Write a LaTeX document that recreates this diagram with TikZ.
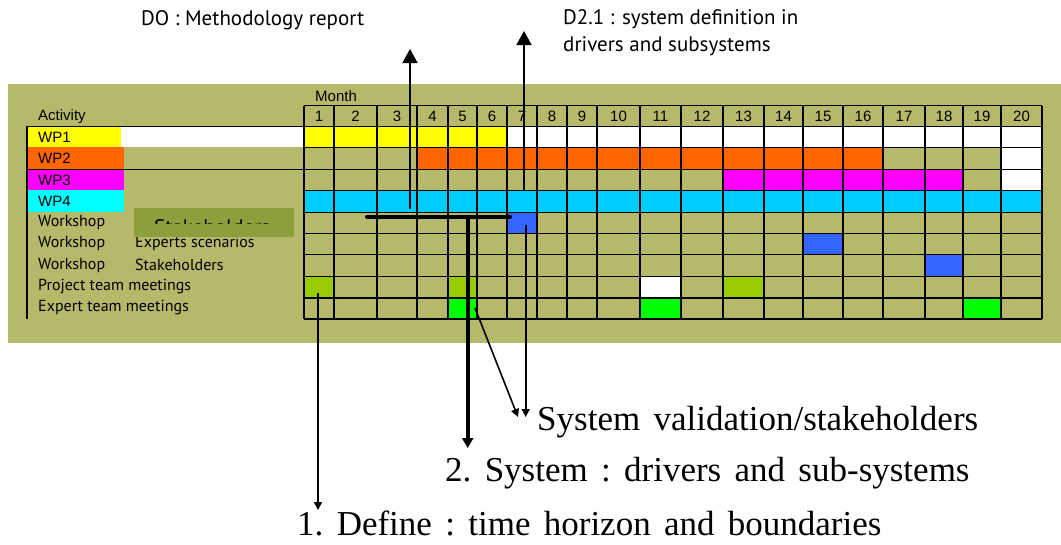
\documentclass[tikz,border=0pt]{standalone}
\usepackage{fontspec}
\setmainfont{Liberation Serif}
\setsansfont{Liberation Sans}
\newfontfamily\humfont{PT Sans}
\usetikzlibrary{arrows.meta,calc}
\definecolor{chartolive}{HTML}{B6B96A}
\definecolor{boxolive}{HTML}{8BA03C}
\definecolor{wpyellow}{HTML}{FFFF00}
\definecolor{wporange}{HTML}{FF6600}
\definecolor{wpmagenta}{HTML}{FF00FF}
\definecolor{wpcyan}{HTML}{00FFFF}
\definecolor{barsky}{HTML}{00CCFF}
\definecolor{meetblue}{HTML}{3366FF}
\definecolor{meetlime}{HTML}{99CC00}
\definecolor{meetgreen}{HTML}{00FF00}
\newcommand\phasefont{\fontsize{35}{35}\selectfont\frenchspacing\spaceskip 0.38em\relax}
\begin{document}
\begin{tikzpicture}[x=1pt,y=-1pt,
    gridline/.style={line width=1.1},
    thickgrid/.style={line width=2.2},
    monthnum/.style={inner sep=0,font=\sffamily\fontsize{15}{15}\selectfont},
    wplabel/.style={anchor=west,inner sep=0,font=\sffamily\fontsize{15}{15}\selectfont},
    rowlabel/.style={anchor=west,inner sep=0,font=\humfont\fontsize{16}{16}\selectfont},
    toplabel/.style={inner sep=0,align=left,font=\humfont\fontsize{21}{27}\selectfont},
    phase/.style={anchor=west,inner sep=0,font=\phasefont},
    deliv/.style={line width=1.6,-{Triangle[length=14pt,width=15pt]}},
    thinarrow/.style={line width=1.6,-{Triangle[length=8pt,width=8pt]}},
    fatarrow/.style={line width=4,-{Triangle[length=10pt,width=11pt]}}]
    \useasboundingbox (0,0) rectangle (1061,544);

    % Background of the chart
    \fill[chartolive] (8,84) rectangle (1061,342.7);

    % Column and row edges of the grid
    \foreach \xv [count=\i from 0] in {304,334,377,417,448,477,507,537,567,597,640,681,723,764,803,843,883,925,963,1001,1042}
        \coordinate (x\i) at (\xv,0);
    \foreach \yv [count=\j from 0] in {105.7,126.3,147.3,169.3,190.3,212.3,233.3,254.3,276.3,297.7,319}
        \coordinate (y\j) at (0,\yv);
    \coordinate (actL) at (27,0);

    % Activity labels
    \fill[white] (121,0 |- y1) rectangle (x0 |- y2);
    \fill[wpyellow] (actL |- y1) rectangle (121,0 |- y2);
    \fill[wporange] (actL |- y2) rectangle (124,0 |- y3);
    \fill[wpmagenta] (actL |- y3) rectangle (124,0 |- y4);
    \fill[wpcyan] (actL |- y4) rectangle (124,0 |- y5);
    \draw[gridline] (actL |- y1) -- (x0 |- y1);
    \draw[gridline] (actL |- y3) -- (x0 |- y3);
    \draw[gridline] (actL |- y1) -- (actL |- y10);

    % Bars of the work packages
    \fill[wpyellow] (x0 |- y1) rectangle (x6 |- y2);
    \fill[white] (x6 |- y1) rectangle (x20 |- y2);
    \fill[wporange] (x3 |- y2) rectangle (x16 |- y3);
    \fill[white] (x19 |- y2) rectangle (x20 |- y4);
    \fill[wpmagenta] (x12 |- y3) rectangle (x18 |- y4);
    \fill[barsky] (x0 |- y4) rectangle (x20 |- y5);

    % Workshops and meetings
    \fill[meetblue] (x6 |- y5) rectangle (x7 |- y6);
    \fill[meetblue] (x14 |- y6) rectangle (x15 |- y7);
    \fill[meetblue] (x17 |- y7) rectangle (x18 |- y8);
    \fill[meetlime] (x0 |- y8) rectangle (x1 |- y9);
    \fill[meetlime] (x4 |- y8) rectangle (x5 |- y9);
    \fill[white] (x10 |- y8) rectangle (x11 |- y9);
    \fill[meetlime] (x12 |- y8) rectangle (x13 |- y9);
    \fill[meetgreen] (x4 |- y9) rectangle (x5 |- y10);
    \fill[meetgreen] (x10 |- y9) rectangle (x11 |- y10);
    \fill[meetgreen] (x18 |- y9) rectangle (x19 |- y10);

    % Drawing the grid
    \foreach \i in {0,...,20}
        \draw[gridline] (x\i |- y0) -- (x\i |- y10);
    \foreach \j in {0,...,10}
        \draw[gridline] (x0 |- y\j) -- (x20 |- y\j);
    \draw[thickgrid] (x4 |- y0) -- (x4 |- y10);
    \draw[thickgrid] (x13 |- y0) -- (x13 |- y10);
    \draw[thickgrid] (x0 |- y9) -- (x20 |- y9);

    % Month numbers
    \foreach \i [evaluate=\i as \p using int(\i-1)] in {1,...,20}
        \node[monthnum] (m\i) at ($(x\p |- y0)!0.5!(x\i |- y1)$) {\i};
    \node[wplabel] (month) at (315,96) {Month};
    \node[wplabel] (activity) at (38,117) {Activity};

    % Row labels
    \node[wplabel] (wp1) at (38,137) {WP1};
    \node[wplabel] (wp2) at (38,158.5) {WP2};
    \node[wplabel] (wp3) at (38,180) {WP3};
    \node[wplabel] (wp4) at (38,201.5) {WP4};
    \node[rowlabel] (ws1) at (38,222) {Workshop};
    \node[rowlabel] (ws2) at (38,243.5) {Workshop};
    \node[rowlabel] (ws2b) at (135,243.5) {Experts scenarios};
    \node[rowlabel] (ws3) at (38,265) {Workshop};
    \node[rowlabel] (ws3b) at (135,265) {Stakeholders};
    \node[rowlabel] (ptm) at (38,286.5) {Project team meetings};
    \node[rowlabel] (etm) at (38,308) {Expert team meetings};

    % Covered label box
    \fill[boxolive] (134,208.3) rectangle (294,236.7);
    \begin{scope}
        \clip (134,208.3) rectangle (294,223.3);
        \node[rowlabel,anchor=base west,font=\humfont\fontsize{21}{21}\selectfont] (ws1b) at (154,234) {Stakeholders};
    \end{scope}

    % Deliverables
    \node[toplabel,anchor=west] (doLabel) at (141,20) {DO : Methodology report};
    \node[toplabel,anchor=north west] (dtwoLabel) at (563,9) {D2.1 : system definition in\\drivers and subsystems};
    \coordinate (doTail) at (410,209);
    \coordinate (doHead) at (410,49);
    \coordinate (dtwoTail) at (524,191);
    \coordinate (dtwoHead) at (524,31);
    \draw[deliv] (doTail) -- (doHead);
    \draw[deliv] (dtwoTail) -- (dtwoHead);

    % Phases
    \node[phase] (valLabel) at (537,422) {System validation/stakeholders};
    \node[phase] (sysLabel) at (445,473) {2. System : drivers and sub-systems};
    \node[phase] (defLabel) at (297,523) {1. Define : time horizon and boundaries};
    \coordinate (barL) at (367,216.7);
    \coordinate (barR) at (510,216.7);
    \coordinate (barMid) at (467.7,216.7);
    \coordinate (sysHead) at (467.7,448);
    \coordinate (wsTail) at (525.7,225);
    \coordinate (wsHead) at (525.7,417);
    \coordinate (etmTail) at (475,308);
    \coordinate (etmHead) at (518,417);
    \coordinate (ptmTail) at (318,293);
    \coordinate (defHead) at (318,510);
    \draw[line width=4,line cap=round] (barL) -- (barR);
    \draw[fatarrow] (barMid) -- (sysHead);
    \draw[thinarrow] (wsTail) -- (wsHead);
    \draw[thinarrow] (etmTail) -- (etmHead);
    \draw[thinarrow] (ptmTail) -- (defHead);
\end{tikzpicture}
\end{document}
